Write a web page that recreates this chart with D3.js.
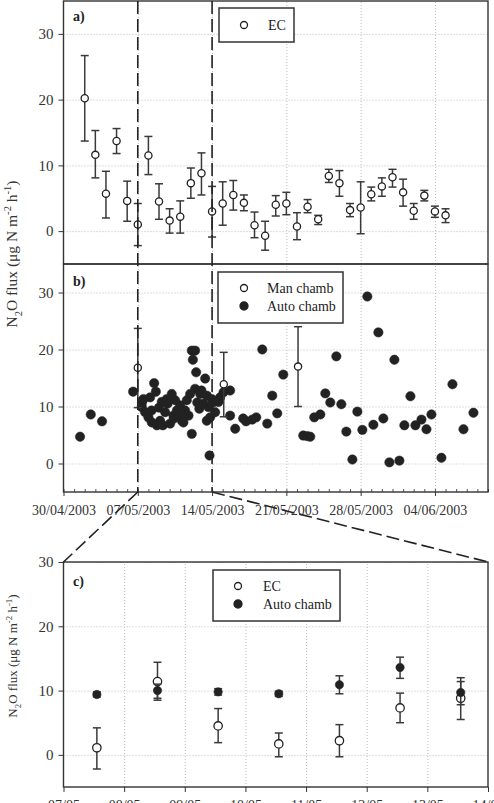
<!DOCTYPE html>
<html>
<head>
<meta charset="utf-8">
<script src="https://cdn.jsdelivr.net/npm/d3@7"></script>
<style>
  body { margin: 0; background: #fff; }
  svg { display: block; font-family: "Liberation Serif", "Times New Roman", serif; }
  text { white-space: pre; }
</style>
</head>
<body>
<div id="chart"></div>
<script>
// ---------- DATA ----------
const startLabel = "30/04/2003";
const endLabel = "09/06/2003";
const weekTicks = ["30/04/2003", "07/05/2003", "14/05/2003", "21/05/2003", "28/05/2003", "04/06/2003"];
const zoomTicks = ["07/05", "08/05", "09/05", "10/05", "11/05", "12/05", "13/05", "14/05"];
const fluxTicks = [0, 10, 20, 30];

// a) EC daily means (day = days after 30/04/2003)
const ecDay = [2, 3, 4, 5, 6, 7, 8, 9, 10, 11, 12, 13, 14, 15, 16, 17, 18, 19, 20, 21, 22, 23, 24, 25, 26, 27, 28, 29, 30, 31, 32, 33, 34, 35, 36];
const ecFlux = [20.2, 11.6, 5.7, 13.7, 4.6, 1.0, 11.5, 4.5, 1.6, 2.2, 7.3, 8.8, 3.0, 4.2, 5.5, 4.3, 0.9, -0.7, 4.0, 4.2, 0.7, 3.7, 1.8, 8.4, 7.3, 3.2, 3.6, 5.6, 6.8, 8.2, 5.9, 3.1, 5.4, 3.0, 2.4];
const ecLow = [13.7, 8.1, 2.0, 11.8, 1.5, -2.2, 8.6, 1.8, -0.3, -0.3, 5.0, 5.5, -0.9, 0.9, 3.2, 3.1, -1.0, -2.9, 2.3, 2.5, -1.3, 2.8, 1.0, 7.4, 5.3, 2.2, -0.4, 4.6, 5.3, 6.7, 3.8, 1.8, 4.6, 2.1, 1.3];
const ecHigh = [26.7, 15.3, 9.1, 15.6, 7.6, 4.2, 14.4, 7.2, 3.4, 4.6, 9.6, 11.9, 6.8, 7.5, 7.7, 5.5, 2.9, 1.5, 5.4, 5.9, 2.8, 4.8, 2.4, 9.4, 9.2, 4.2, 7.5, 6.7, 8.1, 9.4, 7.9, 4.2, 6.2, 3.8, 3.4];

// b) manual chambers
const manDay = [7.0, 15.1, 22.1];
const manFlux = [16.8, 13.9, 17.0];
const manLow = [9.8, 8.2, 10.0];
const manHigh = [23.7, 19.5, 24.0];

// b) automatic chambers
const autoDay = [1.56, 2.57, 3.63, 6.56, 7.38, 7.4, 7.53, 7.69, 8.0, 8.16, 8.3, 8.32, 8.54, 8.7, 8.8, 9.0, 9.1, 9.26, 9.36, 9.58,
  9.73, 9.8, 10.05, 10.2, 10.36, 10.4, 10.52, 10.68, 10.8, 10.99, 11.0, 11.15, 11.3, 11.46, 11.62, 11.78, 11.93, 12.09, 12.09, 12.19,
  12.4, 12.4, 12.5, 12.6, 12.8, 12.88, 13.0, 13.19, 13.35, 13.5, 13.51, 13.66, 13.76, 13.82, 13.98, 14.1, 14.29, 14.6, 14.76, 15.08,
  15.7, 15.7, 16.18, 16.93, 17.2, 17.78, 18.16, 18.73, 19.2, 19.67, 20.14, 20.71, 22.59, 22.97, 23.25, 23.63, 24.2, 24.67, 25.14, 25.71,
  26.18, 26.65, 27.22, 27.69, 28.16, 28.63, 29.2, 29.67, 30.14, 30.71, 31.18, 31.65, 32.12, 32.69, 33.16, 33.73, 34.2, 34.67, 35.61, 36.65,
  37.69, 38.63];
const autoFlux = [4.7, 8.6, 7.4, 12.6, 9.9, 10.7, 11.3, 9.0, 8.1, 11.6, 9.3, 7.2, 14.1, 12.6, 6.7, 9.8, 7.5, 10.8, 6.7, 9.0,
  11.3, 10.5, 7.0, 12.2, 8.4, 7.9, 11.1, 9.3, 8.8, 8.4, 10.2, 7.5, 7.2, 9.3, 11.1, 8.4, 12.2, 19.8, 5.2, 18.2,
  19.8, 13.1, 16.0, 10.7, 9.6, 12.2, 12.8, 10.5, 14.9, 7.5, 11.9, 9.9, 1.4, 8.1, 11.3, 10.7, 9.0, 10.8, 11.6, 12.5,
  12.8, 8.4, 6.1, 7.9, 7.4, 7.7, 8.1, 20.0, 7.0, 11.9, 8.8, 15.6, 4.9, 4.8, 4.7, 8.1, 8.6, 12.3, 10.7, 18.8,
  10.4, 5.6, 0.7, 9.1, 5.9, 29.3, 6.8, 23.0, 7.9, 0.2, 18.2, 0.5, 6.7, 11.8, 6.7, 7.7, 6.0, 8.6, 1.0, 13.9,
  6.0, 8.9];

// c) zoom 07/05 - 14/05 (day = days after 07/05/2003)
const cDay = [0.55, 1.55, 2.55, 3.55, 4.55, 5.55, 6.55];
const cEcFlux = [1.1, 11.4, 4.5, 1.7, 2.2, 7.3, 8.8];
const cEcLow = [-2.2, 8.5, 1.9, -0.3, -0.3, 5.0, 5.5];
const cEcHigh = [4.2, 14.4, 7.2, 3.4, 4.7, 9.6, 11.4];
const cAutoFlux = [9.4, 10.0, 9.8, 9.5, 10.9, 13.6, 9.7];
const cAutoLow = [9.0, 8.8, 9.3, 9.1, 9.5, 11.9, 7.8];
const cAutoHigh = [9.8, 11.0, 10.3, 9.9, 12.3, 15.2, 12.0];

// ---------- SETUP ----------
const W = 494, H = 803;
const left = 63.5, right = 488;
const pa = { top: 1, bottom: 264 };
const pb = { top: 264, bottom: 492 };
const pc = { top: 562, bottom: 787 };
const ink = "#222";

const parseFull = d3.timeParse("%d/%m/%Y");
const atDay = (base, d) => new Date(base.getTime() + d * 864e5);
const startDate = parseFull(startLabel);
const endDate = parseFull(endLabel);
const weekDates = weekTicks.map(parseFull);
const zoomDates = zoomTicks.map((s) => parseFull(s + "/2003"));
const zoomStart = zoomDates[0];

const svg = d3.select("#chart").append("svg")
  .attr("width", W).attr("height", H);
svg.append("rect").attr("width", W).attr("height", H).attr("fill", "#fff");

const xAB = d3.scaleTime().domain([startDate, endDate]).range([left, right]);
const xC = d3.scaleTime().domain([zoomDates[0], zoomDates[zoomDates.length - 1]]).range([left, right]);
const yA = d3.scaleLinear().domain([-5, 35]).range([pa.bottom, pa.top]);
const yB = d3.scaleLinear().domain([-5, 35]).range([pb.bottom, pb.top]);
const yC = d3.scaleLinear().domain([-5, 30]).range([pc.bottom, pc.top]);

// ---------- HELPERS ----------
function grid(p, x, y, xVals) {
  const gy = svg.append("g").attr("transform", `translate(${left},0)`)
    .call(d3.axisLeft(y).tickValues(fluxTicks).tickSize(-(right - left)).tickFormat(""));
  const gx = svg.append("g").attr("transform", `translate(0,${p.bottom})`)
    .call(d3.axisBottom(x).tickValues(xVals).tickSize(-(p.bottom - p.top)).tickFormat(""));
  [gy, gx].forEach((g) => {
    g.select(".domain").remove();
    g.selectAll("line").attr("stroke", "#bdbdbd").attr("stroke-dasharray", "1,2");
  });
}

function yAxis(y) {
  const g = svg.append("g").attr("transform", `translate(${left},0)`)
    .call(d3.axisLeft(y).tickValues(fluxTicks).tickSize(5).tickPadding(5));
  g.select(".domain").remove();
  g.selectAll("line").attr("stroke", "#333");
  g.attr("font-family", null).attr("font-size", 15);
  g.selectAll("text").attr("fill", "#333");
}

function frame(p) {
  svg.append("rect")
    .attr("x", left).attr("y", p.top)
    .attr("width", right - left).attr("height", p.bottom - p.top)
    .attr("fill", "none").attr("stroke", "#333").attr("stroke-width", 1.4);
}

function errorBars(xs, lows, highs, x, y, cap) {
  const g = svg.append("g").attr("stroke", "#3a3a3a").attr("stroke-width", 1.5);
  xs.forEach((d, i) => {
    const px = x(d);
    g.append("line").attr("x1", px).attr("x2", px).attr("y1", y(lows[i])).attr("y2", y(highs[i]));
    g.append("line").attr("x1", px - cap).attr("x2", px + cap).attr("y1", y(lows[i])).attr("y2", y(lows[i]));
    g.append("line").attr("x1", px - cap).attr("x2", px + cap).attr("y1", y(highs[i])).attr("y2", y(highs[i]));
  });
}

function dots(xs, vals, x, y, r, filled) {
  svg.append("g").selectAll("circle")
    .data(xs)
    .enter()
    .append("circle")
    .attr("cx", (d) => x(d))
    .attr("cy", (d, i) => y(vals[i]))
    .attr("r", r)
    .attr("fill", filled ? ink : "#fff")
    .attr("stroke", ink)
    .attr("stroke-width", filled ? 0.5 : 1.3);
}

function legend(box, items) {
  svg.append("rect")
    .attr("x", box.x).attr("y", box.y).attr("width", box.w).attr("height", box.h)
    .attr("fill", "#fff").attr("stroke", "#333").attr("stroke-width", 1.5);
  items.forEach((it, i) => {
    const cy = box.y + box.first + i * 18;
    svg.append("circle").attr("cx", box.x + box.mx).attr("cy", cy).attr("r", it.filled ? 4 : 3.5)
      .attr("fill", it.filled ? ink : "#fff").attr("stroke", ink).attr("stroke-width", 1.3);
    svg.append("text").attr("x", box.x + box.tx).attr("y", cy).attr("dy", "0.35em")
      .attr("font-size", 14).attr("fill", ink).text(it.label);
  });
}

function panelLabel(txt, yPos) {
  svg.append("text").attr("x", 73).attr("y", yPos).attr("font-size", 14)
    .attr("font-weight", "bold").attr("fill", ink).text(txt);
}

function yLabel(cx, cy, size) {
  const t = svg.append("text")
    .attr("transform", `translate(${cx},${cy}) rotate(-90)`)
    .attr("text-anchor", "middle").attr("font-size", size).attr("fill", "#333");
  const s = size * 0.68;
  t.append("tspan").text("N");
  t.append("tspan").attr("font-size", s).attr("dy", size * 0.3).text("2");
  t.append("tspan").attr("dy", -size * 0.3).text("O flux (μg N m");
  t.append("tspan").attr("font-size", s).attr("dy", -size * 0.4).text("-2");
  t.append("tspan").attr("dy", size * 0.4).text(" h");
  t.append("tspan").attr("font-size", s).attr("dy", -size * 0.4).text("-1");
  t.append("tspan").attr("dy", size * 0.4).text(")");
}

// ---------- PANEL A ----------
grid(pa, xAB, yA, weekDates.slice(1));
yAxis(yA);
errorBars(ecDay.map((d) => atDay(startDate, d)), ecLow, ecHigh, xAB, yA, 4);
dots(ecDay.map((d) => atDay(startDate, d)), ecFlux, xAB, yA, 3.6, false);
panelLabel("a)", 21);

// ---------- PANEL B ----------
grid(pb, xAB, yB, weekDates.slice(1));
yAxis(yB);
dots(autoDay.map((d) => atDay(startDate, d)), autoFlux, xAB, yB, 4.7, true);
errorBars(manDay.map((d) => atDay(startDate, d)), manLow, manHigh, xAB, yB, 4);
dots(manDay.map((d) => atDay(startDate, d)), manFlux, xAB, yB, 3.6, false);

const xbAxis = svg.append("g").attr("transform", `translate(0,${pb.bottom})`)
  .call(d3.axisBottom(xAB).tickValues(weekDates).tickFormat((d, i) => weekTicks[i]).tickSize(4).tickPadding(9));
xbAxis.select(".domain").remove();
xbAxis.selectAll("line").attr("stroke", "#333");
xbAxis.attr("font-family", null).attr("font-size", 14);
xbAxis.selectAll("text").attr("fill", "#333");

const minorB = svg.append("g").attr("transform", `translate(0,${pb.bottom})`)
  .call(d3.axisBottom(xAB).ticks(d3.timeDay.every(1)).tickSize(-3).tickFormat(""));
minorB.select(".domain").remove();
minorB.selectAll("line").attr("stroke", "#555");
panelLabel("b)", 286);

// ---------- PANEL C ----------
grid(pc, xC, yC, zoomDates.slice(1, -1));
yAxis(yC);
errorBars(cDay.map((d) => atDay(zoomStart, d)), cEcLow, cEcHigh, xC, yC, 4);
dots(cDay.map((d) => atDay(zoomStart, d)), cEcFlux, xC, yC, 4.2, false);
errorBars(cDay.map((d) => atDay(zoomStart, d)), cAutoLow, cAutoHigh, xC, yC, 4);
dots(cDay.map((d) => atDay(zoomStart, d)), cAutoFlux, xC, yC, 4.2, true);

const xcAxis = svg.append("g").attr("transform", `translate(0,${pc.bottom})`)
  .call(d3.axisBottom(xC).tickValues(zoomDates).tickFormat((d, i) => zoomTicks[i]).tickSize(5).tickPadding(8));
xcAxis.select(".domain").remove();
xcAxis.selectAll("line").attr("stroke", "#333");
xcAxis.attr("font-family", null).attr("font-size", 14);
xcAxis.selectAll("text").attr("fill", "#333");
panelLabel("c)", 586);

// ---------- FRAMES, LEGENDS, LABELS ----------
frame(pa);
frame(pb);
frame(pc);

legend({ x: 219, y: 8, w: 75, h: 34, first: 17, mx: 25, tx: 49 }, [{ label: "EC", filled: false }]);
legend({ x: 218, y: 272, w: 125, h: 51, first: 16, mx: 26, tx: 49 },
  [{ label: "Man chamb", filled: false }, { label: "Auto chamb", filled: true }]);
legend({ x: 213, y: 570, w: 127, h: 51, first: 16, mx: 25, tx: 50 },
  [{ label: "EC", filled: false }, { label: "Auto chamb", filled: true }]);

yLabel(17, 254, 15.5);
yLabel(17, 656, 13);

// ---------- ZOOM GUIDES ----------
const zLeft = xAB(zoomDates[0]);
const zRight = xAB(zoomDates[zoomDates.length - 1]);
const guides = svg.append("g").attr("stroke", ink).attr("stroke-width", 1.6)
  .attr("stroke-dasharray", "13,5").attr("fill", "none");
guides.append("line").attr("x1", zLeft).attr("x2", zLeft).attr("y1", pa.top).attr("y2", pb.bottom);
guides.append("line").attr("x1", zRight).attr("x2", zRight).attr("y1", pa.top).attr("y2", pb.bottom);
guides.append("line").attr("x1", zLeft).attr("y1", pb.bottom).attr("x2", xC.range()[0]).attr("y2", pc.top);
guides.append("line").attr("x1", zRight).attr("y1", pb.bottom).attr("x2", xC.range()[1]).attr("y2", pc.top);
</script>
</body>
</html>
